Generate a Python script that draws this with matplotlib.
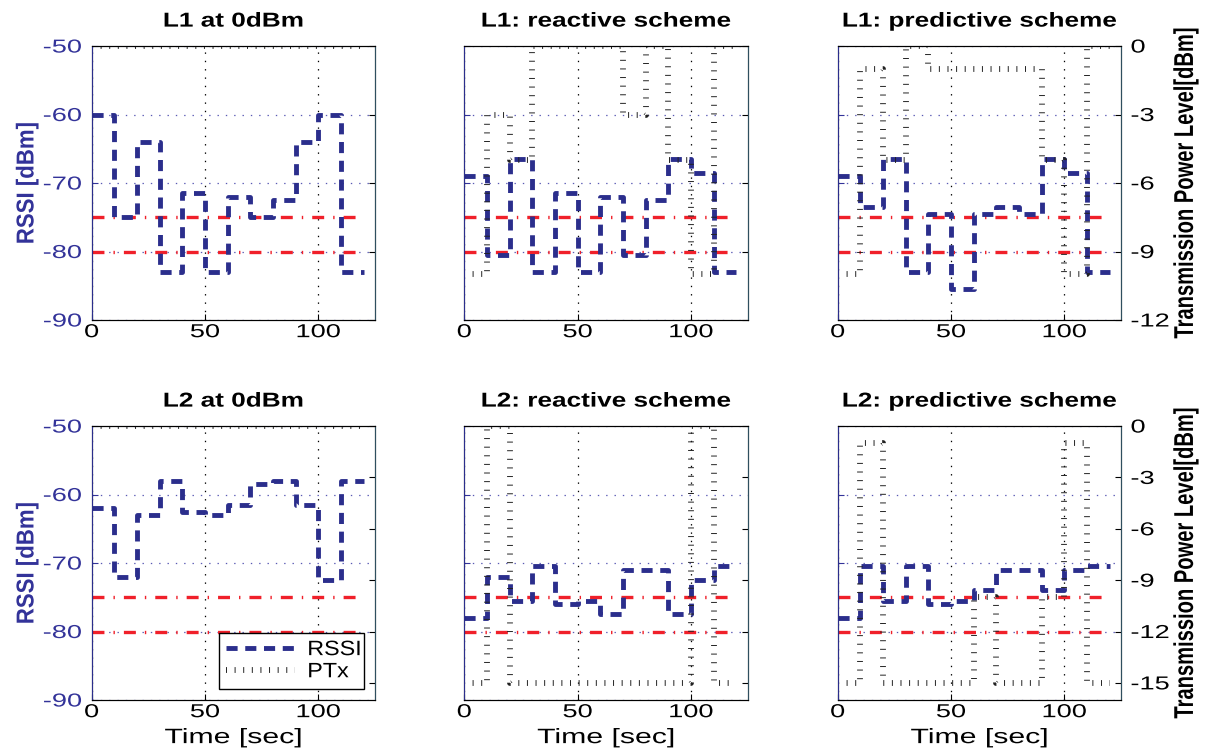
import matplotlib
matplotlib.use("Agg")
import matplotlib.pyplot as plt
from matplotlib.patheffects import AbstractPathEffect
from matplotlib.transforms import Affine2D

plt.rcParams['font.family'] = ['Liberation Sans', 'DejaVu Sans']
plt.rcParams['lines.scale_dashes'] = False
plt.rcParams['axes.unicode_minus'] = False

# ---- data ----
time_s = [0, 10, 20, 30, 40, 50, 60, 70, 80, 90, 100, 110, 120]
thresholds = [-75, -80]

rssi_l1_fixed = [-60, -75, -64, -83, -71.5, -83, -72, -75, -72.5, -64, -60, -83]
ptx_l1_fixed = [0, 0, 0, 0, 0, 0, 0, 0, 0, 0, 0, 0]
rssi_l1_reactive = [-69, -80.5, -66.5, -83, -71.5, -83, -72, -80.5, -72.5, -66.5, -68.5, -83]
ptx_l1_reactive = [-10, -3, -5, 0, 0, 0, 0, -3, 0, -5, -10, 0]
rssi_l1_predictive = [-69, -73.5, -66.5, -83, -74.5, -85.5, -74.5, -73.5, -74.5, -66.5, -68.5, -83]
ptx_l1_predictive = [-10, -1, -5, 0, -1, -1, -1, -1, -1, -5, -10, 0]

rssi_l2_fixed = [-62, -72, -63, -58, -62.5, -63, -61.5, -58.5, -58, -61.5, -72.5, -58]
ptx_l2_fixed = [0, 0, 0, 0, 0, 0, 0, 0, 0, 0, 0, 0]
rssi_l2_reactive = [-78, -72, -75.5, -70.5, -76, -75.5, -77.5, -71, -71, -77.5, -72.5, -70.5]
ptx_l2_reactive = [-15, 0, -15, -15, -15, -15, -15, -15, -15, -15, 0, -15]
rssi_l2_predictive = [-78, -70.5, -75.5, -70.5, -76, -75.5, -74, -71, -71, -74, -71, -70.5]
ptx_l2_predictive = [-15, -1, -15, -15, -15, -15, -10, -15, -15, -10, -1, -15]

titles = [['L1 at 0dBm', 'L1: reactive scheme', 'L1: predictive scheme'],
          ['L2 at 0dBm', 'L2: reactive scheme', 'L2: predictive scheme']]
rssi_all = [[rssi_l1_fixed, rssi_l1_reactive, rssi_l1_predictive],
            [rssi_l2_fixed, rssi_l2_reactive, rssi_l2_predictive]]
ptx_all = [[ptx_l1_fixed, ptx_l1_reactive, ptx_l1_predictive],
           [ptx_l2_fixed, ptx_l2_reactive, ptx_l2_predictive]]

rssi_ticks = [-90, -80, -70, -60, -50]
ptx_ticks = [[-12, -9, -6, -3, 0], [-15, -12, -9, -6, -3, 0]]
ptx_lims = [(-12, 0), (-16, 0)]


# the original picture is stretched sideways, so text is widened the same way
class Stretch(AbstractPathEffect):
    def __init__(self, sx, anchor='center'):
        super().__init__()
        self.sx = sx
        self.anchor = anchor

    def draw_path(self, renderer, gc, tpath, affine, rgbFace=None):
        ext = tpath.get_extents(affine)
        x0 = {'left': ext.x0, 'right': ext.x1}.get(self.anchor, (ext.x0 + ext.x1) / 2)
        st = Affine2D().translate(-x0, 0).scale(self.sx, 1).translate(x0, 0)
        renderer.draw_path(gc, tpath, affine + st, rgbFace)


blue = '#2b2e8c'
lblue = '#333399'
red = '#f0202a'
tsize = 13.5
tstretch = 1.45

fig = plt.figure(figsize=(12.06, 7.51), dpi=100)
lefts = [0.0760, 0.3850, 0.6946]
bottoms = [0.5739, 0.0679]
w, h = 0.2350, 0.3648

for r in range(2):
    for c in range(3):
        ax = fig.add_axes([lefts[c], bottoms[r], w, h])
        ax2 = ax.twinx()

        rssi = rssi_all[r][c]
        ptx = ptx_all[r][c]
        for thr in thresholds:
            ax.plot([time_s[0], time_s[-1]], [thr, thr], color=red, lw=2.4,
                    ls=(0, (8.6, 6.5, 1, 6.5)))
        l_rssi, = ax.plot(time_s, rssi + [rssi[-1]], drawstyle='steps-post', color=blue,
                          lw=3.5, ls=(0, (8, 5.5)))
        l_ptx, = ax2.plot(time_s, ptx + [ptx[-1]], drawstyle='steps-post', color='#222222',
                          lw=4.2, ls=(0, (0.7, 5.5)), dash_capstyle='butt')

        ax.set_xlim(0, 125)
        ax.set_ylim(-90, -50)
        ax.set_xticks([0, 50, 100])
        ax.set_yticks(rssi_ticks)
        ax2.set_ylim(*ptx_lims[r])
        ax2.set_yticks(ptx_ticks[r])

        ax.xaxis.grid(True, color='k', ls=(0, (1, 5)), lw=0.9)
        ax.yaxis.grid(True, color='#5a5ab4', ls=(0, (1, 5)), lw=0.9)

        ax.tick_params(axis='x', direction='in', length=4, labelsize=tsize, colors='k', pad=3)
        ax.tick_params(axis='y', direction='in', length=4, labelsize=tsize, colors=lblue,
                       labelleft=(c == 0), pad=7)
        ax2.tick_params(axis='y', direction='in', length=4, labelsize=tsize, colors='k',
                        labelright=(c == 2), pad=7)
        for sp in ['top', 'bottom']:
            ax2.spines[sp].set_color('k')
        ax2.spines['left'].set_color(blue)
        ax2.spines['right'].set_color('#2f4f5f')

        for lab in ax.get_xticklabels():
            lab.set_path_effects([Stretch(tstretch)])
        for lab in ax.get_yticklabels():
            lab.set_path_effects([Stretch(tstretch, 'right')])
        for lab in ax2.get_yticklabels():
            lab.set_path_effects([Stretch(tstretch, 'left')])

        ax.set_title(titles[r][c], fontsize=14.5, fontweight='bold', pad=14,
                     path_effects=[Stretch(1.3)])
        if r == 1:
            ax.set_xlabel('Time [sec]', fontsize=15, labelpad=5,
                          path_effects=[Stretch(1.45)])
        if c == 0:
            ax.set_ylabel('RSSI [dBm]', fontsize=16, fontweight='bold', color=lblue,
                          labelpad=12, path_effects=[Stretch(1.1)])
        if c == 2:
            ax2.set_ylabel('Transmission Power Level[dBm]', fontsize=14.5, fontweight='bold',
                           labelpad=13, path_effects=[Stretch(1.35)])
        if r == 1 and c == 0:
            leg = ax2.legend([l_rssi, l_ptx], ['RSSI', 'PTx'], loc='lower right',
                             fontsize=15, fancybox=False, edgecolor='k', framealpha=1,
                             handlelength=3.3, borderaxespad=0.55, borderpad=0.35,
                             labelspacing=0.15, handletextpad=0.6)
            leg.get_frame().set_linewidth(1.0)
            for txt in leg.get_texts():
                txt.set_path_effects([Stretch(1.12, 'left')])

fig.savefig('out.png', dpi=100)
